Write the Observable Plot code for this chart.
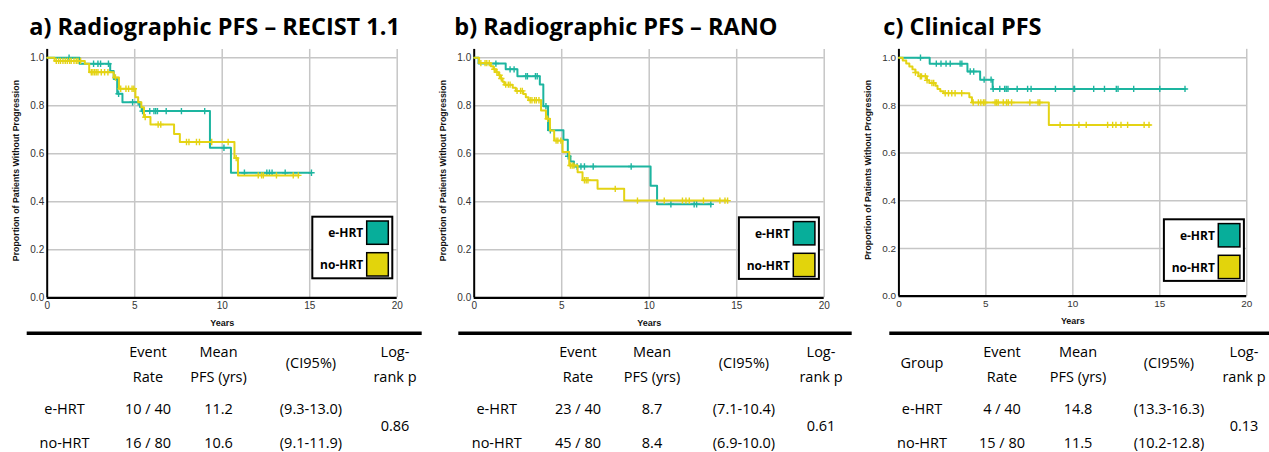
<!DOCTYPE html>
<html><head><meta charset="utf-8">
<script src="https://cdn.jsdelivr.net/npm/d3@7"></script>
<script src="https://cdn.jsdelivr.net/npm/@observablehq/plot@0.6"></script>
<style>
html,body{margin:0;padding:0;background:#fff;}
#root{position:relative;width:1269px;height:452px;overflow:hidden;background:#fff;}
.panel{position:absolute;top:40px;}
</style></head><body><div id="root"></div>
<script>
// ---------- data ----------
const groups = ["e-HRT", "no-HRT"];
const titles = ["a) Radiographic PFS – RECIST 1.1", "b) Radiographic PFS – RANO", "c) Clinical PFS"];
const xTicks = [0, 5, 10, 15, 20];
const yTicks = [0, 0.2, 0.4, 0.6, 0.8, 1.0];
const xLabel = "Years";
const yLabel = "Proportion of Patients Without Progression";

// a) RECIST 1.1
const aEhrtTimes = [0, 1.85, 3.6, 3.8, 4.0, 4.3, 5.3, 5.4, 9.3, 10.5];
const aEhrtSurv = [1.0, 0.975, 0.945, 0.912, 0.85, 0.815, 0.795, 0.778, 0.625, 0.521];
const aEhrtEnd = 15.1;
const aEhrtCensor = [1.25, 2.65, 2.9, 3.05, 3.5, 4.08, 4.88, 5.2, 5.45, 5.86, 6.1, 6.2, 6.3, 6.8, 7.67, 9.0, 10.1, 11.27, 12.55, 12.7, 12.85, 13.6, 15.1];
const aNoTimes = [0, 0.42, 2.15, 2.4, 3.8, 4.1, 5.04, 5.2, 5.38, 5.53, 5.9, 7.25, 7.58, 10.7, 10.9];
const aNoSurv = [1.0, 0.987, 0.975, 0.94, 0.918, 0.871, 0.836, 0.815, 0.794, 0.753, 0.722, 0.683, 0.649, 0.582, 0.51];
const aNoEnd = 14.38;
const aNoCensor = [0.52, 0.65, 0.76, 0.9, 1.03, 1.15, 1.28, 1.37, 1.53, 1.66, 1.76, 1.91, 2.52, 2.61, 2.71, 2.8, 2.9, 3.09, 3.28, 3.47, 3.9, 4.2, 4.5, 4.65, 4.85, 4.95, 5.6, 6.34, 6.49, 7.96, 8.1, 8.53, 8.7, 9.4, 10.34, 10.8, 12.06, 12.25, 12.35, 13.1, 14.06, 14.35];

// b) RANO
const bEhrtTimes = [0, 0.25, 1.8, 2.47, 3.75, 3.95, 4.22, 5.1, 5.35, 5.5, 5.7, 10.08, 10.45];
const bEhrtSurv = [1.0, 0.976, 0.952, 0.923, 0.889, 0.798, 0.698, 0.659, 0.59, 0.568, 0.547, 0.467, 0.39];
const bEhrtEnd = 13.56;
const bEhrtCensor = [1.24, 2.05, 2.28, 2.95, 3.04, 3.5, 3.6, 4.1, 4.35, 5.37, 5.88, 6.1, 6.3, 6.8, 8.97, 11.24, 12.57, 12.71, 13.52];
const bNoTimes = [0, 0.28, 0.95, 1.1, 1.25, 1.4, 1.5, 1.62, 1.72, 2.2, 2.38, 2.8, 2.95, 3.1, 3.82, 4.1, 4.33, 4.57, 5.05, 5.43, 5.91, 6.19, 7.05, 8.57];
const bNoSurv = [1.0, 0.978, 0.965, 0.952, 0.94, 0.927, 0.914, 0.9, 0.888, 0.875, 0.862, 0.849, 0.836, 0.823, 0.78, 0.746, 0.697, 0.655, 0.607, 0.551, 0.523, 0.49, 0.454, 0.405];
const bNoEnd = 14.48;
const bNoCensor = [0.38, 0.62, 0.72, 0.86, 1.15, 1.3, 1.45, 1.55, 1.8, 1.95, 2.05, 2.45, 2.65, 2.75, 3.2, 3.3, 3.45, 3.55, 3.7, 4.2, 4.68, 4.78, 4.95, 5.5, 5.6, 5.7, 6.3, 6.4, 6.5, 8.06, 9.33, 10.86, 11.9, 12.1, 12.29, 13.1, 14.04, 14.33, 14.48];

// c) Clinical
const cEhrtTimes = [0, 1.77, 3.94, 4.67, 5.39];
const cEhrtSurv = [1.0, 0.975, 0.942, 0.908, 0.869];
const cEhrtEnd = 16.48;
const cEhrtCensor = [1.24, 2.15, 2.42, 2.71, 2.95, 3.52, 3.62, 4.1, 4.3, 4.9, 5.3, 5.42, 5.8, 6.08, 6.17, 6.27, 6.8, 7.4, 7.6, 9.0, 10.06, 10.1, 11.2, 11.82, 12.5, 12.6, 13.5, 15.0, 16.45];
const cNoTimes = [0, 0.22, 0.42, 0.6, 0.78, 0.95, 1.12, 1.6, 1.75, 2.1, 2.22, 2.38, 2.57, 4.05, 4.2, 8.62];
const cNoSurv = [1.0, 0.988, 0.976, 0.963, 0.951, 0.938, 0.922, 0.905, 0.894, 0.882, 0.869, 0.859, 0.851, 0.834, 0.812, 0.718];
const cNoEnd = 14.43;
const cNoCensor = [0.95, 1.23, 1.3, 1.52, 1.62, 1.9, 2.0, 2.66, 2.85, 3.04, 3.23, 3.61, 4.27, 4.57, 4.71, 4.86, 4.95, 5.53, 5.62, 5.71, 6.0, 6.19, 6.29, 6.48, 7.53, 8.0, 8.1, 9.27, 10.35, 10.77, 12.0, 12.29, 12.48, 12.77, 13.15, 14.1, 14.38];

// tables
const headEvent = ["Event", "Rate"];
const headMean = ["Mean", "PFS (yrs)"];
const headCI = "(CI95%)";
const headLog = ["Log-", "rank p"];
const headGroup = "Group";
const aEventRate = ["10 / 40", "16 / 80"], aMeanPFS = ["11.2", "10.6"], aCI = ["(9.3-13.0)", "(9.1-11.9)"], aLogRankP = "0.86";
const bEventRate = ["23 / 40", "45 / 80"], bMeanPFS = ["8.7", "8.4"], bCI = ["(7.1-10.4)", "(6.9-10.0)"], bLogRankP = "0.61";
const cEventRate = ["4 / 40", "15 / 80"], cMeanPFS = ["14.8", "11.5"], cCI = ["(13.3-16.3)", "(10.2-12.8)"], cLogRankP = "0.13";

// ---------- helpers ----------
const TEAL = "#1db5a0", YELLOW = "#e4d314";
const TEAL_SW = "#07ae9a", YELLOW_SW = "#e2d40c";

function stepData(times, surv, end) {
  const pts = times.map((t, i) => ({t, s: surv[i]}));
  pts.push({t: end, s: surv[surv.length - 1]});
  return pts;
}
function censorData(times, surv, cens) {
  return cens.map(c => {
    const i = Math.max(0, d3.bisectRight(times, c) - 1);
    return {t: c, s: surv[i]};
  });
}

const panels = [
  {title: titles[0], e: [aEhrtTimes, aEhrtSurv, aEhrtEnd, aEhrtCensor], n: [aNoTimes, aNoSurv, aNoEnd, aNoCensor],
   tab: [aEventRate, aMeanPFS, aCI, aLogRankP], x0: 46.7, titleX: 29.3, cols: [64.5, 148, 218.5, 311, 395], line: [26.7, 421.7], legTop: 216.7, group: false},
  {title: titles[1], e: [bEhrtTimes, bEhrtSurv, bEhrtEnd, bEhrtCensor], n: [bNoTimes, bNoSurv, bNoEnd, bNoCensor],
   tab: [bEventRate, bMeanPFS, bCI, bLogRankP], x0: 473.3, titleX: 454.3, cols: [496.7, 578, 652, 744, 821], line: [458.3, 851.7], legTop: 217.3, group: false},
  {title: titles[2], e: [cEhrtTimes, cEhrtSurv, cEhrtEnd, cEhrtCensor], n: [cNoTimes, cNoSurv, cNoEnd, cNoCensor],
   tab: [cEventRate, cMeanPFS, cCI, cLogRankP], x0: 898.3, titleX: 883.3, cols: [922, 1002, 1078, 1169, 1244], line: [889.3, 1275], legTop: 219.3, group: true}
];

const root = document.getElementById("root");

panels.forEach(p => {
  const chart = Plot.plot({
    width: 420, height: 292,
    marginLeft: 46.7, marginRight: 23.3, marginTop: 8.9, marginBottom: 34.7,
    x: {domain: [0, 20]},
    y: {domain: [0, 1.035]},
    style: {fontFamily: "'Liberation Sans', Arial, sans-serif", background: "transparent", overflow: "visible"},
    marks: [
      Plot.gridX(xTicks.slice(1), {stroke: "#c6c6c6", strokeOpacity: 1, strokeWidth: 1.5}),
      Plot.gridY(yTicks.slice(1), {stroke: "#c6c6c6", strokeOpacity: 1, strokeWidth: 1.5}),
      Plot.ruleX([0], {stroke: "#000", strokeWidth: 2}),
      Plot.ruleY([0], {stroke: "#000", strokeWidth: 2.3}),
      Plot.axisX(xTicks, {tickSize: 0, tickPadding: 4, fontSize: 10, color: "#333", label: null}),
      Plot.axisY(yTicks, {tickSize: 0, tickPadding: 3, fontSize: 10, color: "#333", label: null, tickFormat: d3.format(".1f")}),
      Plot.line(stepData(p.e[0], p.e[1], p.e[2]), {x: "t", y: "s", curve: "step-after", stroke: TEAL, strokeWidth: 2}),
      Plot.dot(censorData(p.e[0], p.e[1], p.e[3]), {x: "t", y: "s", symbol: "plus", r: 2.2, stroke: TEAL, strokeWidth: 1.4}),
      Plot.line(stepData(p.n[0], p.n[1], p.n[2]), {x: "t", y: "s", curve: "step-after", stroke: YELLOW, strokeWidth: 2}),
      Plot.dot(censorData(p.n[0], p.n[1], p.n[3]), {x: "t", y: "s", symbol: "plus", r: 2.2, stroke: YELLOW, strokeWidth: 1.4}),
      Plot.text([xLabel], {frameAnchor: "bottom", dy: 25.4, lineAnchor: "middle", textAnchor: "middle", fontWeight: "bold", fontSize: 9, fill: "#111"}),
      Plot.text([yLabel], {frameAnchor: "left", rotate: -90, dx: -30.7, dy: -3, lineAnchor: "middle", textAnchor: "middle", fontWeight: "bold", fontSize: 8.8, fill: "#111"})
    ]
  });
  const div = document.createElement("div");
  div.className = "panel";
  div.style.left = (p.x0 - 46.7) + "px";
  div.appendChild(chart);
  root.appendChild(div);
});

// overlay: titles, legends, tables
const ov = d3.select(root).append("svg")
  .attr("width", 1269).attr("height", 452)
  .style("position", "absolute").style("left", 0).style("top", 0)
  .style("font-family", "'Open Sans', sans-serif");

panels.forEach(p => {
  ov.append("text").attr("x", p.titleX).attr("y", 35)
    .attr("font-size", 23.5).attr("font-weight", 700).attr("fill", "#000").text(p.title);

  // legend
  const lx = p.x0 + 265.6, ly = p.legTop;
  const lg = ov.append("g").attr("transform", `translate(${lx},${ly})`);
  lg.append("rect").attr("x", 0).attr("y", 0).attr("width", 80).attr("height", 61.6)
    .attr("fill", "#fff").attr("stroke", "#000").attr("stroke-width", 2);
  [[TEAL_SW, 4.3], [YELLOW_SW, 36]].forEach(([c, y], i) => {
    lg.append("rect").attr("x", 54.4).attr("y", y).attr("width", 21.6).attr("height", 23.3)
      .attr("fill", c).attr("stroke", "#000").attr("stroke-width", 1.5);
    lg.append("text").attr("x", 51).attr("y", i === 0 ? 20.8 : 52.4).attr("text-anchor", "end")
      .attr("font-size", 12).attr("font-weight", 700).attr("fill", "#000").text(groups[i]);
  });

  // table
  ov.append("line").attr("x1", p.line[0]).attr("x2", p.line[1]).attr("y1", 333.3).attr("y2", 333.3)
    .attr("stroke", "#000").attr("stroke-width", 3.5);
  const t = (x, y, s) => ov.append("text").attr("x", x).attr("y", y).attr("text-anchor", "middle")
    .attr("font-size", 14.5).attr("fill", "#000").text(s);
  const [cg, ce, cm, cc, cl] = p.cols;
  if (p.group) t(cg, 368.3, headGroup);
  t(ce, 356.8, headEvent[0]); t(ce, 381.7, headEvent[1]);
  t(cm, 356.8, headMean[0]); t(cm, 381.7, headMean[1]);
  t(cc, 368.3, headCI);
  t(cl, 356.8, headLog[0]); t(cl, 381.7, headLog[1]);
  const [er, mp, ci, lp] = p.tab;
  [414, 447.5].forEach((y, i) => {
    t(cg, y, groups[i]); t(ce, y, er[i]); t(cm, y, mp[i]); t(cc, y, ci[i]);
  });
  t(cl, 430.7, lp);
});
</script></body></html>
